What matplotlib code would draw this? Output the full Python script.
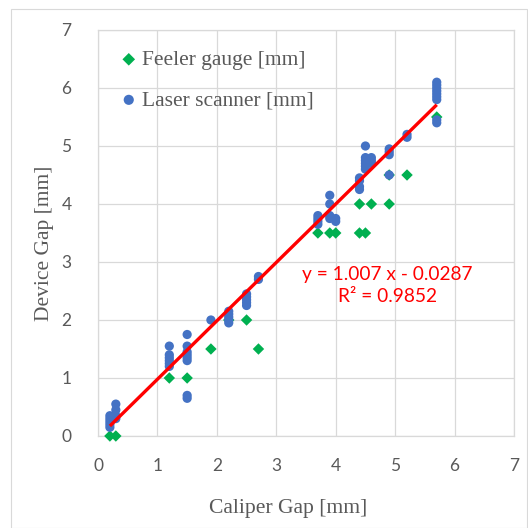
# Caliper gap vs device gap: feeler gauge and laser scanner readings
import matplotlib
matplotlib.use('Agg')
import matplotlib.pyplot as plt
import numpy as np
from matplotlib.patches import Rectangle

# feeler gauge readings
feeler_x = [0.2, 0.3, 1.2, 1.5, 1.9, 2.2, 2.5, 2.7, 3.7, 3.9, 4.0, 4.4, 4.5,
            4.4, 4.6, 4.9, 4.9, 5.2, 5.7]
feeler_y = [0.0, 0.0, 1.0, 1.0, 1.5, 2.0, 2.0, 1.5, 3.5, 3.5, 3.5, 3.5, 3.5,
            4.0, 4.0, 4.0, 4.5, 4.5, 5.5]

# laser scanner readings
laser_x = ([0.2] * 5 + [0.3] * 4 + [1.2] * 6 + [1.5] * 8 + [1.9] + [2.2] * 5
           + [2.5] * 5 + [2.7] * 2 + [3.7] * 4 + [3.9] * 4 + [4.0] * 2
           + [4.4] * 4 + [4.5] * 6 + [4.6] * 3 + [4.9] * 4 + [5.2] * 2
           + [5.7] * 9)
laser_y = ([0.35, 0.3, 0.25, 0.2, 0.15]
           + [0.55, 0.45, 0.35, 0.3]
           + [1.55, 1.4, 1.35, 1.3, 1.25, 1.2]
           + [1.75, 1.55, 1.45, 1.4, 1.35, 1.3, 0.7, 0.65]
           + [2.0]
           + [2.15, 2.1, 2.05, 2.0, 1.95]
           + [2.45, 2.4, 2.35, 2.3, 2.25]
           + [2.75, 2.7]
           + [3.8, 3.75, 3.7, 3.65]
           + [4.15, 4.0, 3.8, 3.75]
           + [3.75, 3.7]
           + [4.45, 4.4, 4.3, 4.25]
           + [5.0, 4.8, 4.75, 4.7, 4.65, 4.6]
           + [4.8, 4.75, 4.7]
           + [4.95, 4.9, 4.85, 4.5]
           + [5.2, 5.15]
           + [6.1, 6.05, 6.0, 5.95, 5.9, 5.85, 5.8, 5.45, 5.4])

# linear trend shown on the chart
slope = 1.007
intercept = -0.0287
r2 = 0.9852
trend_x = np.array([0.2, 5.7])

gray = '#595959'
grid_c = '#d9d9d9'

fig = plt.figure(figsize=(5.28, 5.28), dpi=100)
fig.patches.append(Rectangle((11 / 528, 0), 516 / 528, 1 - 9 / 528,
                             transform=fig.transFigure, fill=False,
                             edgecolor=grid_c, linewidth=0.8))
ax = fig.add_axes([98 / 528, 1 - 436 / 528, 416 / 528, 406 / 528])

ax.scatter(feeler_x, feeler_y, marker='D', s=34, color='#00B050',
           edgecolors='none', label='Feeler gauge [mm]', zorder=3, clip_on=False)
ax.scatter(laser_x, laser_y, marker='o', s=44, color='#4472C4',
           edgecolors='none', label='Laser scanner [mm]', zorder=4, clip_on=False)
ax.plot(trend_x, slope * trend_x + intercept, color='#FF0000', lw=2.4,
        solid_capstyle='butt', zorder=5)

ax.set_xlim(0, 7)
ax.set_ylim(0, 7)
ax.set_xticks(range(8))
ax.set_yticks(range(8))
ax.grid(True, color=grid_c, lw=0.9)
ax.set_axisbelow(True)
for sp in ax.spines.values():
    sp.set_color(grid_c)
    sp.set_linewidth(0.9)
ax.tick_params(length=0, colors=gray, labelsize=12.5)
ax.tick_params(axis='x', pad=16)
ax.tick_params(axis='y', pad=19)
for lab in ax.get_xticklabels() + ax.get_yticklabels():
    lab.set_family('Lato')

sign = '-' if intercept < 0 else '+'
ax.text(4.865, 2.59, f'y = {slope:.3f} x {sign} {abs(intercept):.4f}\nR² = {r2:.4f}',
        color='#FF0000', fontsize=13.8, family='Lato', ha='center',
        va='center', linespacing=1.35, zorder=6)

fig.text(288 / 528, 1 - 508 / 528, 'Caliper Gap [mm]', ha='center',
         va='center', color=gray, fontsize=15.6, family='Liberation Serif')
fig.text(45 / 528, 1 - 243 / 528, 'Device Gap [mm]', ha='center',
         va='center', rotation=90, color=gray, fontsize=15.5,
         family='Liberation Serif')

leg = ax.legend(loc='upper left', bbox_to_anchor=(20 / 416, 0.951), frameon=False,
                prop={'family': 'Liberation Serif', 'size': 15.5},
                labelcolor=gray, handlelength=1.0, handletextpad=0.12,
                labelspacing=0.95, scatterpoints=1, borderaxespad=0,
                borderpad=0, markerscale=1.1)

fig.savefig('out.png', dpi=100)
